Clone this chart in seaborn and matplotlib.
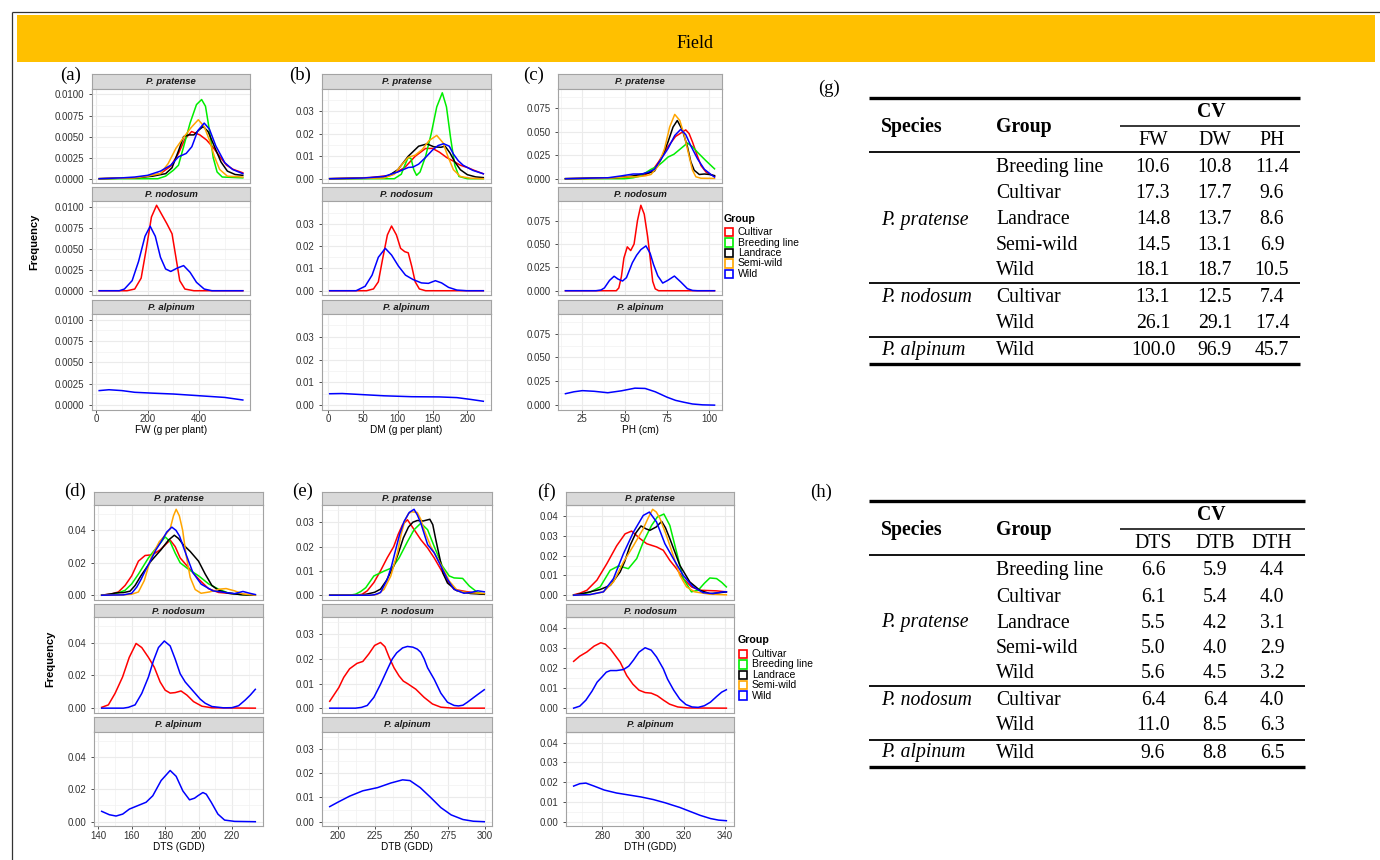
import numpy as np
import pandas as pd
import matplotlib
matplotlib.use("Agg")
import matplotlib.pyplot as plt
import seaborn as sns
from matplotlib.ticker import FixedLocator, AutoMinorLocator, FormatStrFormatter
from matplotlib.lines import Line2D
from matplotlib.patches import Rectangle

plt.rcParams["font.family"] = ["Liberation Sans", "DejaVu Sans"]

# ---------------- categories ----------------
GROUPS = ["Cultivar", "Breeding line", "Landrace", "Semi-wild", "Wild"]
GROUP_COLORS = ["#FF0000", "#00EE00", "#000000", "#FFA500", "#0000FF"]
SPECIES = ["P. pratense", "P. nodosum", "P. alpinum"]

# ---------------- density curves (x, density) ----------------
# (a) FW
FW_PRA_CUL = [(12, 0), (150, 0.0001), (200, 0.0003), (250, 0.0006), (290, 0.0015), (320, 0.0030), (345, 0.0047), (371, 0.0056), (403, 0.0052), (429, 0.0046), (455, 0.0037), (481, 0.0026), (507, 0.0016), (533, 0.0011), (570, 0.0007)]
FW_PRA_BRE = [(12, 0), (240, 0), (270, 0.0003), (300, 0.0010), (320, 0.0016), (340, 0.0038), (365, 0.0066), (390, 0.0088), (410, 0.0094), (425, 0.0086), (440, 0.0058), (455, 0.0025), (470, 0.0008), (490, 0.0002), (570, 0.0001)]
FW_PRA_LAN = [(12, 0), (150, 0.0001), (220, 0.0003), (270, 0.0006), (295, 0.0013), (320, 0.0033), (340, 0.0050), (360, 0.0052), (380, 0.0052), (400, 0.0058), (416, 0.0062), (435, 0.0056), (460, 0.0038), (485, 0.0020), (510, 0.0009), (540, 0.0005), (570, 0.0004)]
FW_PRA_SEM = [(12, 0), (150, 0.0001), (200, 0.0003), (250, 0.0006), (280, 0.0018), (310, 0.0036), (340, 0.0049), (370, 0.0061), (397, 0.0070), (420, 0.0062), (440, 0.0046), (460, 0.0026), (480, 0.0011), (510, 0.0003), (570, 0.0002)]
FW_PRA_WIL = [(12, 0), (100, 0.0001), (150, 0.0002), (200, 0.0004), (250, 0.0009), (290, 0.0016), (320, 0.0026), (350, 0.0030), (372, 0.0038), (395, 0.0057), (420, 0.0066), (440, 0.0059), (465, 0.0039), (500, 0.0019), (530, 0.0011), (570, 0.0006)]
FW_NOD_CUL = [(12, 0), (120, 0), (150, 0.0002), (175, 0.0015), (195, 0.0050), (215, 0.0088), (235, 0.0102), (255, 0.0091), (275, 0.0080), (295, 0.0068), (310, 0.0040), (325, 0.0012), (345, 0.0002), (380, 0), (570, 0)]
FW_NOD_WIL = [(12, 0), (90, 0), (110, 0.0002), (140, 0.0012), (165, 0.0035), (190, 0.0065), (210, 0.0077), (230, 0.0065), (250, 0.0040), (270, 0.0026), (290, 0.0023), (315, 0.0027), (340, 0.0030), (365, 0.0022), (390, 0.0010), (420, 0.0002), (450, 0), (570, 0)]
FW_ALP_WIL = [(12, 0.0017), (50, 0.0018), (100, 0.0017), (150, 0.0015), (220, 0.0014), (300, 0.0013), (400, 0.0011), (500, 0.0009), (570, 0.0006)]

# (b) DM
DM_PRA_CUL = [(2, 0), (60, 0.0005), (90, 0.0015), (110, 0.005), (125, 0.010), (140, 0.0135), (150, 0.0135), (160, 0.0118), (170, 0.0095), (180, 0.0078), (190, 0.006), (200, 0.005), (210, 0.0037), (223, 0.0022)]
DM_PRA_BRE = [(2, 0), (95, 0), (105, 0.002), (110, 0.006), (115, 0.0095), (119, 0.009), (123, 0.004), (127, 0.0015), (132, 0.003), (140, 0.010), (148, 0.020), (156, 0.032), (164, 0.0383), (170, 0.032), (176, 0.018), (182, 0.006), (188, 0.001), (200, 0), (223, 0)]
DM_PRA_LAN = [(2, 0), (60, 0.0002), (85, 0.001), (100, 0.004), (115, 0.010), (130, 0.0145), (142, 0.0155), (152, 0.0142), (162, 0.0140), (168, 0.0145), (175, 0.0115), (182, 0.0075), (190, 0.004), (200, 0.0018), (212, 0.0008), (223, 0.0005)]
DM_PRA_SEM = [(2, 0), (80, 0.0003), (95, 0.002), (105, 0.006), (115, 0.0095), (125, 0.0105), (135, 0.013), (145, 0.017), (156, 0.0193), (165, 0.016), (172, 0.010), (180, 0.004), (190, 0.001), (205, 0.0002), (223, 0)]
DM_PRA_WIL = [(2, 0), (50, 0.0003), (80, 0.001), (100, 0.003), (115, 0.0050), (122, 0.0052), (130, 0.0065), (140, 0.0095), (150, 0.0128), (158, 0.0148), (166, 0.0156), (174, 0.0145), (180, 0.011), (187, 0.008), (194, 0.006), (208, 0.0037), (223, 0.0022)]
DM_NOD_CUL = [(2, 0), (55, 0), (65, 0.0008), (72, 0.004), (78, 0.014), (85, 0.025), (91, 0.029), (98, 0.025), (104, 0.019), (110, 0.0175), (115, 0.017), (120, 0.011), (125, 0.004), (131, 0.0008), (140, 0), (223, 0)]
DM_NOD_WIL = [(2, 0), (40, 0), (53, 0.002), (63, 0.007), (72, 0.015), (82, 0.019), (91, 0.016), (101, 0.011), (111, 0.007), (122, 0.005), (134, 0.0035), (144, 0.0033), (154, 0.0045), (163, 0.0035), (173, 0.0015), (185, 0.0003), (199, 0), (223, 0)]
DM_ALP_WIL = [(2, 0.0050), (20, 0.0051), (50, 0.0046), (80, 0.0041), (120, 0.0037), (160, 0.0036), (185, 0.0033), (205, 0.0025), (223, 0.0017)]

# (c) PH
PH_PRA_CUL = [(15, 0), (45, 0.001), (55, 0.002), (62, 0.004), (66, 0.008), (70, 0.018), (75, 0.033), (80, 0.045), (86, 0.052), (88, 0.048), (90, 0.039), (92.5, 0.026), (95, 0.014), (98, 0.007), (101, 0.0043), (103, 0.0025)]
PH_PRA_BRE = [(15, 0), (50, 0), (55, 0.001), (58.5, 0.0025), (62, 0.006), (65.5, 0.010), (69.5, 0.0135), (72.5, 0.018), (75.5, 0.023), (79, 0.026), (83, 0.032), (87, 0.038), (90, 0.034), (93, 0.028), (98, 0.019), (103, 0.0105)]
PH_PRA_LAN = [(15, 0), (45, 0.001), (55, 0.003), (60, 0.005), (64, 0.006), (67.5, 0.008), (71.5, 0.021), (75.5, 0.039), (78.5, 0.055), (81, 0.062), (84, 0.052), (87, 0.034), (89, 0.018), (91, 0.009), (94, 0.0045), (97, 0.005), (100, 0.0045), (103, 0.0033)]
PH_PRA_SEM = [(15, 0), (35, 0.0002), (45, 0.001), (52, 0.002), (57, 0.002), (62, 0.003), (65.5, 0.0045), (69.5, 0.013), (73.5, 0.032), (76.5, 0.055), (79.5, 0.0685), (82.5, 0.062), (85, 0.047), (88, 0.024), (90, 0.009), (92, 0.002), (95, 0.0005), (103, 0.0003)]
PH_PRA_WIL = [(15, 0), (40, 0.001), (48, 0.003), (55, 0.005), (60, 0.005), (64, 0.007), (67.5, 0.010), (71.5, 0.021), (75.5, 0.032), (79.5, 0.046), (83, 0.0525), (86, 0.047), (89, 0.035), (93, 0.021), (97, 0.010), (101, 0.0043), (103, 0.0018)]
PH_NOD_CUL = [(15, 0), (45, 0), (46.5, 0.003), (48, 0.015), (49.5, 0.035), (51.5, 0.047), (53.5, 0.043), (55.5, 0.050), (57.5, 0.075), (59.5, 0.0915), (61.5, 0.082), (63.5, 0.058), (65, 0.035), (66.5, 0.010), (68, 0.002), (70, 0), (103, 0)]
PH_NOD_WIL = [(15, 0), (33, 0), (36, 0.0008), (38, 0.003), (41, 0.011), (43.7, 0.0155), (46, 0.0125), (48.7, 0.0104), (51, 0.014), (54.5, 0.030), (57, 0.038), (59.5, 0.044), (62.5, 0.048), (65, 0.040), (67, 0.028), (69.5, 0.016), (72.4, 0.0082), (75.3, 0.011), (79.3, 0.0157), (83, 0.0095), (87, 0.0022), (90, 0.0003), (93, 0), (103, 0)]
PH_ALP_WIL = [(15, 0.012), (20, 0.014), (25, 0.0152), (32, 0.0145), (40, 0.013), (48, 0.015), (56, 0.0178), (62, 0.0175), (68, 0.014), (75, 0.0083), (80, 0.005), (85, 0.003), (90, 0.0012), (96, 0.0003), (103, 0)]

# (d) DTS
DTS_PRA_CUL = [(142, 0), (148, 0.0008), (152, 0.002), (156, 0.006), (160, 0.012), (164, 0.021), (168, 0.0245), (171, 0.0248), (174, 0.026), (177, 0.028), (180, 0.031), (183, 0.034), (186, 0.030), (189, 0.023), (194, 0.017), (200, 0.010), (206, 0.004), (212, 0.0017), (222, 0.0008), (234, 0)]
DTS_PRA_BRE = [(142, 0), (148, 0.0005), (152, 0.0015), (156, 0.003), (160, 0.007), (164, 0.013), (167, 0.018), (170, 0.023), (173, 0.027), (177, 0.032), (180, 0.036), (183, 0.033), (186, 0.026), (189, 0.020), (194, 0.016), (200, 0.012), (206, 0.007), (212, 0.0037), (218, 0.0013), (225, 0.0004), (234, 0)]
DTS_PRA_LAN = [(142, 0), (147, 0.0007), (151, 0.0015), (155, 0.0016), (159, 0.0025), (162, 0.006), (165.5, 0.012), (171.5, 0.021), (177.5, 0.028), (182, 0.034), (185.5, 0.037), (188, 0.035), (191, 0.031), (195, 0.027), (200, 0.021), (204, 0.013), (208, 0.006), (212, 0.003), (218, 0.0012), (226, 0.0003), (234, 0)]
DTS_PRA_SEM = [(142, 0), (155, 0.0002), (160, 0.0006), (164, 0.002), (167.5, 0.009), (171.5, 0.023), (176.5, 0.033), (180, 0.037), (183, 0.041), (185, 0.049), (186.6, 0.053), (188.5, 0.049), (190.5, 0.040), (192.5, 0.025), (195, 0.011), (198, 0.0035), (201.5, 0.0012), (206.5, 0.002), (212.5, 0.0037), (216.5, 0.0041), (221.5, 0.0027), (226.5, 0.0008), (234, 0)]
DTS_PRA_WIL = [(142, 0), (155, 0.0002), (160, 0.0012), (163, 0.005), (165.6, 0.0098), (168.5, 0.016), (171.6, 0.022), (174.5, 0.028), (177.6, 0.033), (181, 0.039), (184, 0.042), (186.5, 0.040), (188.6, 0.0365), (192.6, 0.025), (196.6, 0.014), (201.6, 0.0068), (208.6, 0.0027), (216.6, 0.0016), (221.6, 0.001), (226.6, 0.0023), (230.6, 0.0012), (234, 0.0004)]
DTS_NOD_CUL = [(142, 0.0005), (146, 0.002), (150, 0.009), (154.5, 0.019), (158.5, 0.031), (162.6, 0.0395), (166, 0.037), (170, 0.031), (173.5, 0.025), (177, 0.016), (180, 0.011), (183, 0.0092), (186, 0.0095), (189.5, 0.0105), (193, 0.008), (197, 0.004), (202, 0.0012), (208, 0.0002), (234, 0)]
DTS_NOD_WIL = [(142, 0), (155, 0), (158, 0.0005), (162, 0.002), (166, 0.009), (170, 0.019), (173, 0.029), (176, 0.037), (179.5, 0.041), (183, 0.038), (186, 0.030), (189, 0.021), (192, 0.016), (195, 0.0125), (198, 0.009), (201, 0.0055), (204, 0.003), (208, 0.001), (215, 0.0002), (220, 0.0003), (224, 0.0015), (228, 0.005), (231, 0.008), (234, 0.0115)]
DTS_ALP_WIL = [(142, 0.0064), (146.6, 0.0043), (150.6, 0.0035), (154.6, 0.0047), (158.6, 0.0078), (163.6, 0.0099), (168.6, 0.012), (172.6, 0.016), (177.6, 0.0254), (183, 0.0316), (186.6, 0.028), (190.6, 0.019), (194.6, 0.0135), (197.6, 0.0145), (199.6, 0.016), (202.6, 0.018), (204.6, 0.017), (207.6, 0.012), (211.6, 0.0047), (215.6, 0.001), (221.6, 0.0002), (234, 0)]

# (e) DTB
DTB_PRA_CUL = [(194.5, 0), (213, 0), (216.5, 0.0004), (220, 0.0018), (224.5, 0.0052), (229, 0.010), (233.5, 0.0153), (238, 0.020), (241, 0.025), (244, 0.029), (247.3, 0.031), (251.8, 0.027), (256.4, 0.0228), (261, 0.0194), (265.5, 0.0153), (270, 0.0106), (274.5, 0.0058), (279, 0.0024), (288, 0.0014), (299.5, 0.0004)]
DTB_PRA_BRE = [(194.5, 0), (208, 0), (212, 0.0004), (215.5, 0.0015), (219, 0.0031), (224.5, 0.0079), (231.4, 0.0099), (237, 0.0113), (241.6, 0.0153), (247.3, 0.022), (251.8, 0.0269), (256.4, 0.0296), (261, 0.0269), (265.5, 0.020), (271, 0.012), (275.7, 0.0079), (279, 0.0071), (284.8, 0.0069), (289.3, 0.0038), (295, 0.0011), (299.5, 0.0004)]
DTB_PRA_LAN = [(194.5, 0), (215, 0), (220, 0.0005), (225, 0.0012), (229, 0.0025), (233, 0.006), (238, 0.012), (241, 0.017), (244.5, 0.0235), (248, 0.028), (251, 0.030), (254, 0.0307), (258, 0.0305), (262.5, 0.0312), (264.5, 0.029), (266.5, 0.023), (269, 0.016), (271.5, 0.009), (274.5, 0.005), (281, 0.0018), (290, 0.0007), (299.5, 0.0004)]
DTB_PRA_SEM = [(194.5, 0), (224, 0), (227, 0.0004), (231.4, 0.0024), (236, 0.0079), (240.5, 0.0174), (243, 0.025), (245.5, 0.0305), (248, 0.0335), (250, 0.0343), (254, 0.034), (256.5, 0.031), (258.6, 0.0269), (263.2, 0.020), (270, 0.0126), (275.7, 0.0058), (281.4, 0.0018), (288, 0.0011), (299.5, 0.0007)]
DTB_PRA_WIL = [(194.5, 0), (222, 0), (225, 0.0002), (229, 0.0011), (233.6, 0.0065), (236.5, 0.012), (239.3, 0.0187), (242, 0.025), (245, 0.0303), (248.5, 0.034), (251.8, 0.0353), (254, 0.033), (256.4, 0.0296), (261, 0.0208), (265.5, 0.0174), (270, 0.012), (274.5, 0.0065), (279, 0.0024), (285.7, 0.0008), (291, 0.0012), (295, 0.0018), (299.5, 0.0014)]
DTB_NOD_CUL = [(194.5, 0.0028), (200.7, 0.0084), (204, 0.0125), (208, 0.016), (213, 0.0182), (217, 0.019), (221, 0.022), (225, 0.0255), (229, 0.0267), (232, 0.025), (235, 0.0205), (238.2, 0.0164), (241.6, 0.0131), (244.5, 0.011), (247.3, 0.010), (253, 0.0077), (258.6, 0.0044), (264.3, 0.0017), (270, 0.0004), (278, 0), (299.5, 0)]
DTB_NOD_WIL = [(194.5, 0), (212, 0), (216, 0.0003), (220, 0.0011), (224.5, 0.0044), (229, 0.0097), (233.6, 0.0157), (237, 0.020), (240, 0.0225), (244, 0.0245), (247.3, 0.0251), (251, 0.0248), (254, 0.024), (256.4, 0.0227), (258.7, 0.020), (261, 0.0164), (265.5, 0.0117), (270, 0.0061), (274.5, 0.0024), (279, 0.0011), (282, 0.0009), (285, 0.0012), (288, 0.0024), (294, 0.0051), (299.5, 0.0075)]
DTB_ALP_WIL = [(194.5, 0.0062), (200, 0.008), (208, 0.0105), (217, 0.0127), (227, 0.014), (236, 0.0159), (244, 0.0172), (249, 0.0169), (256, 0.014), (263, 0.010), (270, 0.0058), (277, 0.0028), (285, 0.0009), (292, 0.0002), (299.5, 0)]

# (f) DTH
DTH_PRA_CUL = [(266, 0.0002), (269, 0.001), (272.5, 0.0025), (277.4, 0.0076), (282.3, 0.016), (287.1, 0.025), (291.2, 0.031), (294.4, 0.0324), (298.5, 0.0286), (301.8, 0.026), (306.6, 0.0244), (309.9, 0.0227), (313.1, 0.0176), (316.4, 0.0134), (319.7, 0.0084), (323.7, 0.0042), (327.8, 0.0025), (335.9, 0.0022), (340.8, 0.0017)]
DTH_PRA_BRE = [(266, 0), (270, 0.0005), (274, 0.0015), (279, 0.0042), (283.9, 0.0126), (288, 0.0148), (292.8, 0.0134), (296.9, 0.0185), (300.1, 0.0269), (304.2, 0.0353), (307, 0.0395), (310.2, 0.041), (313.1, 0.0353), (316.4, 0.0218), (319.7, 0.0084), (323.7, 0.0017), (327, 0.0025), (330, 0.006), (332.7, 0.0087), (336, 0.0084), (338.5, 0.0065), (340.8, 0.0042)]
DTH_PRA_LAN = [(266, 0), (270, 0.0008), (274, 0.0017), (279, 0.0029), (284, 0.005), (288.8, 0.0118), (291, 0.017), (293.6, 0.025), (296.5, 0.0315), (299, 0.035), (301.5, 0.0335), (303.4, 0.0328), (306.5, 0.0345), (309.1, 0.0373), (311, 0.034), (313.1, 0.0286), (318, 0.0151), (322.9, 0.0067), (327.8, 0.0025), (332.7, 0.0008), (337, 0.0012), (340.8, 0.0017)]
DTH_PRA_SEM = [(266, 0), (274, 0.0003), (280.6, 0.0017), (285.5, 0.0067), (290.4, 0.0168), (295.3, 0.025), (300.1, 0.0336), (302.5, 0.039), (304.7, 0.0434), (306.5, 0.042), (308.3, 0.0387), (311.5, 0.030), (314.8, 0.020), (318, 0.010), (321.3, 0.0042), (325.3, 0.0017), (332.7, 0.0005), (340.8, 0.0002)]
DTH_PRA_WIL = [(266, 0), (274, 0.0003), (280.6, 0.0017), (285.5, 0.0084), (290.4, 0.021), (295.3, 0.0319), (300.1, 0.0403), (303.1, 0.042), (306.6, 0.037), (310.7, 0.026), (314.8, 0.0185), (319.7, 0.010), (324.5, 0.0042), (329.4, 0.0013), (334.3, 0.0008), (339.2, 0.0017), (340.8, 0.0017)]
DTH_NOD_CUL = [(266, 0.0234), (269, 0.026), (272.5, 0.0281), (276, 0.031), (279.3, 0.0327), (281.5, 0.032), (283.9, 0.0297), (288.8, 0.023), (292, 0.0163), (295, 0.012), (298, 0.009), (301, 0.0078), (304, 0.0075), (307, 0.0062), (310, 0.004), (313, 0.002), (317, 0.0006), (322, 0.0001), (340.8, 0)]
DTH_NOD_WIL = [(266, 0), (269, 0.001), (272, 0.004), (275, 0.0085), (277.5, 0.013), (279.8, 0.0155), (282, 0.018), (284, 0.0188), (287, 0.0188), (290.4, 0.0193), (293, 0.021), (295.3, 0.024), (298, 0.028), (301, 0.0302), (304, 0.029), (306.6, 0.0256), (309.9, 0.0197), (312, 0.0145), (315, 0.009), (318, 0.0045), (321, 0.0018), (324, 0.0006), (327, 0.0004), (330, 0.0012), (333, 0.003), (336, 0.0058), (338.5, 0.008), (340.8, 0.0092)]
DTH_ALP_WIL = [(266, 0.018), (269, 0.0192), (272, 0.0195), (276, 0.018), (281, 0.016), (287, 0.0145), (293, 0.0135), (299, 0.0125), (305, 0.0112), (311, 0.0095), (314, 0.0085), (318, 0.0072), (323, 0.0052), (328, 0.0032), (333, 0.0016), (337, 0.0008), (340.8, 0.0005)]

# ---------------- tick values ----------------
FW_XTICKS = [0, 200, 400, 600]
FW_YTICKS = [0, 0.0025, 0.005, 0.0075, 0.01]
DM_XTICKS = [0, 50, 100, 150, 200]
DM_YTICKS = [0, 0.01, 0.02, 0.03]
PH_XTICKS = [25, 50, 75, 100]
PH_YTICKS = [0, 0.025, 0.05, 0.075]
DTS_XTICKS = [140, 160, 180, 200, 220]
DTS_YTICKS = [0, 0.02, 0.04]
DTB_XTICKS = [200, 225, 250, 275, 300]
DTB_YTICKS = [0, 0.01, 0.02, 0.03]
DTH_XTICKS = [280, 300, 320, 340]
DTH_YTICKS = [0, 0.01, 0.02, 0.03, 0.04]

# ---------------- tables ----------------
TABLE_SPECIES = ["P. pratense", "P. nodosum", "P. alpinum"]
TABLE_GROUPS = ["Breeding line", "Cultivar", "Landrace", "Semi-wild", "Wild", "Cultivar", "Wild", "Wild"]
G_HEADS = ["FW", "DW", "PH"]
G_FW = [10.6, 17.3, 14.8, 14.5, 18.1, 13.1, 26.1, 100.0]
G_DW = [10.8, 17.7, 13.7, 13.1, 18.7, 12.5, 29.1, 96.9]
G_PH = [11.4, 9.6, 8.6, 6.9, 10.5, 7.4, 17.4, 45.7]
H_HEADS = ["DTS", "DTB", "DTH"]
H_DTS = [6.6, 6.1, 5.5, 5.0, 5.6, 6.4, 11.0, 9.6]
H_DTB = [5.9, 5.4, 4.2, 4.0, 4.5, 6.4, 8.5, 8.8]
H_DTH = [4.4, 4.0, 3.1, 2.9, 3.2, 4.0, 6.3, 6.5]

# ---------------- build long table ----------------
CURVE_SETS = {
    "FW": [FW_PRA_CUL, FW_PRA_BRE, FW_PRA_LAN, FW_PRA_SEM, FW_PRA_WIL, FW_NOD_CUL, FW_NOD_WIL, FW_ALP_WIL],
    "DM": [DM_PRA_CUL, DM_PRA_BRE, DM_PRA_LAN, DM_PRA_SEM, DM_PRA_WIL, DM_NOD_CUL, DM_NOD_WIL, DM_ALP_WIL],
    "PH": [PH_PRA_CUL, PH_PRA_BRE, PH_PRA_LAN, PH_PRA_SEM, PH_PRA_WIL, PH_NOD_CUL, PH_NOD_WIL, PH_ALP_WIL],
    "DTS": [DTS_PRA_CUL, DTS_PRA_BRE, DTS_PRA_LAN, DTS_PRA_SEM, DTS_PRA_WIL, DTS_NOD_CUL, DTS_NOD_WIL, DTS_ALP_WIL],
    "DTB": [DTB_PRA_CUL, DTB_PRA_BRE, DTB_PRA_LAN, DTB_PRA_SEM, DTB_PRA_WIL, DTB_NOD_CUL, DTB_NOD_WIL, DTB_ALP_WIL],
    "DTH": [DTH_PRA_CUL, DTH_PRA_BRE, DTH_PRA_LAN, DTH_PRA_SEM, DTH_PRA_WIL, DTH_NOD_CUL, DTH_NOD_WIL, DTH_ALP_WIL],
}
CURVE_KEYS = [("P. pratense", g) for g in GROUPS] + [("P. nodosum", "Cultivar"), ("P. nodosum", "Wild"), ("P. alpinum", "Wild")]

rows = []
for var, curves in CURVE_SETS.items():
    for (sp, grp), pts in zip(CURVE_KEYS, curves):
        for i, (xv, yv) in enumerate(pts):
            rows.append((var, sp, grp, i, xv, yv))
df = pd.DataFrame(rows, columns=["var", "species", "group", "idx", "x", "y"])
PALETTE = dict(zip(GROUPS, GROUP_COLORS))

# ---------------- figure ----------------
W, H = 1380, 860
fig = plt.figure(figsize=(W / 100, H / 100), dpi=100)
fig.patch.set_facecolor("white")


def add_ax(x0, y0, x1, y1):
    return fig.add_axes([x0 / W, 1 - y1 / H, (x1 - x0) / W, (y1 - y0) / H])


def ftext(x, y, s, **kw):
    return fig.text(x / W, 1 - y / H, s, **kw)


def hline(x0, x1, y, lw, color="black"):
    fig.add_artist(Line2D([x0 / W, x1 / W], [1 - y / H, 1 - y / H], color=color, lw=lw,
                          transform=fig.transFigure, solid_capstyle="butt"))


def vline(x, y0, y1, lw, color="black"):
    fig.add_artist(Line2D([x / W, x / W], [1 - y0 / H, 1 - y1 / H], color=color, lw=lw,
                          transform=fig.transFigure, solid_capstyle="butt"))


# frame + banner
hline(12, 1380, 12, 0.9, "#333333")
vline(12, 12, 860, 0.9, "#333333")
fig.add_artist(Rectangle((17 / W, 1 - 62 / H), (1375 - 17) / W, 47 / H, transform=fig.transFigure,
                         facecolor="#FFC000", edgecolor="none"))
ftext(695, 44, "Field", family="Liberation Serif", fontsize=13, ha="center", va="center")

ROW_GEOM = {
    0: dict(strips=[(74, 88.5), (187, 201), (300, 313.5)], plots=[(88.5, 183), (201, 295), (313.5, 409.5)]),
    1: dict(strips=[(491.5, 505), (604, 617), (717, 731.5)], plots=[(505, 599.5), (617, 712.5), (731.5, 826)]),
}

PANELS = [
    dict(var="FW", tag="(a)", tagxy=(71, 75), xlabel="FW (g per plant)", xt=FW_XTICKS, yt=FW_YTICKS, fmt="%.4f", x0=92, x1=250, row=0, ylab=34, legend=None),
    dict(var="DM", tag="(b)", tagxy=(300, 75), xlabel="DM (g per plant)", xt=DM_XTICKS, yt=DM_YTICKS, fmt="%.2f", x0=322, x1=491, row=0, ylab=None, legend=None),
    dict(var="PH", tag="(c)", tagxy=(534, 75), xlabel="PH (cm)", xt=PH_XTICKS, yt=PH_YTICKS, fmt="%.3f", x0=558, x1=722, row=0, ylab=None, legend=(724, 219.5, 232.3)),
    dict(var="DTS", tag="(d)", tagxy=(75, 491.5), xlabel="DTS (GDD)", xt=DTS_XTICKS, yt=DTS_YTICKS, fmt="%.2f", x0=94, x1=263, row=1, ylab=50, legend=None),
    dict(var="DTB", tag="(e)", tagxy=(303, 491.5), xlabel="DTB (GDD)", xt=DTB_XTICKS, yt=DTB_YTICKS, fmt="%.2f", x0=322, x1=492, row=1, ylab=None, legend=None),
    dict(var="DTH", tag="(f)", tagxy=(546, 492.5), xlabel="DTH (GDD)", xt=DTH_XTICKS, yt=DTH_YTICKS, fmt="%.2f", x0=566, x1=734, row=1, ylab=None, legend=(738, 640, 654)),
]

BORDER = "#A3A3A3"
TICKC = "#333333"

for p in PANELS:
    pdf = df[df["var"] == p["var"]]
    xmin, xmax = pdf["x"].min(), pdf["x"].max()
    xpad = 0.05 * (xmax - xmin)
    ymax = pdf["y"].max()
    ypad = 0.05 * ymax
    geom = ROW_GEOM[p["row"]]
    for i, sp in enumerate(SPECIES):
        s0, s1 = geom["strips"][i]
        a0, a1 = geom["plots"][i]
        # strip
        sax = add_ax(p["x0"], s0, p["x1"], s1)
        sax.set_facecolor("#D9D9D9")
        sax.set_xticks([])
        sax.set_yticks([])
        for sp_ in sax.spines.values():
            sax.spines
            sp_.set_color(BORDER)
            sp_.set_linewidth(0.8)
        sax.text(0.5, 0.45, sp, transform=sax.transAxes, ha="center", va="center",
                 fontsize=6.8, fontweight="bold", fontstyle="italic", color="#1A1A1A")
        # plot
        ax = add_ax(p["x0"], a0, p["x1"], a1)
        sub = pdf[pdf["species"] == sp].sort_values(["group", "idx"])
        order = [g for g in GROUPS if g in set(sub["group"])]
        sns.lineplot(data=sub, x="x", y="y", hue="group", hue_order=order, palette=PALETTE,
                     estimator=None, errorbar=None, sort=False, legend=False, linewidth=1.1, ax=ax)
        ax.set_xlim(xmin - xpad, xmax + xpad)
        ax.set_ylim(-ypad, ymax + ypad)
        ax.xaxis.set_major_locator(FixedLocator(p["xt"]))
        ax.yaxis.set_major_locator(FixedLocator(p["yt"]))
        ax.xaxis.set_minor_locator(AutoMinorLocator(2))
        ax.yaxis.set_minor_locator(AutoMinorLocator(2))
        ax.yaxis.set_major_formatter(FormatStrFormatter(p["fmt"]))
        ax.grid(which="major", color="#EBEBEB", linewidth=0.8)
        ax.grid(which="minor", color="#F2F2F2", linewidth=0.5)
        ax.set_axisbelow(True)
        for sp_ in ax.spines.values():
            sp_.set_color(BORDER)
            sp_.set_linewidth(0.8)
        ax.tick_params(which="minor", length=0)
        ax.tick_params(axis="y", which="major", length=2.5, width=0.6, color=TICKC,
                       labelsize=7, labelcolor=TICKC, pad=3)
        ax.set_ylabel("")
        if i < 2:
            ax.tick_params(axis="x", which="major", length=0, labelbottom=False)
            ax.set_xlabel("")
        else:
            ax.tick_params(axis="x", which="major", length=2.5, width=0.6, color=TICKC,
                           labelsize=7, labelcolor=TICKC, pad=0.8)
            ax.set_xlabel(p["xlabel"], fontsize=7.2, labelpad=1, color="black")
    # panel tag
    ftext(p["tagxy"][0], p["tagxy"][1], p["tag"], family="Liberation Serif", fontsize=13.5,
          ha="center", va="center")
    if p["ylab"] is not None:
        yc = (geom["strips"][0][0] + geom["plots"][2][1]) / 2
        ftext(p["ylab"], yc, "Frequency", rotation=90, fontsize=8, fontweight="bold",
              ha="center", va="center")
    if p["legend"] is not None:
        lx, ly_title, ly0 = p["legend"]
        ftext(lx, ly_title, "Group", fontsize=7.7, fontweight="bold", ha="left", va="center")
        for k, g in enumerate(GROUPS):
            yy = ly0 + k * 10.4
            fig.add_artist(Rectangle(((lx + 0.5) / W, 1 - (yy + 4.1) / H), 8.3 / W, 8.3 / H,
                                     transform=fig.transFigure, fill=False,
                                     edgecolor=PALETTE[g], linewidth=1.2))
            ftext(lx + 13.7, yy, g, fontsize=7.5, ha="left", va="center")

# ---------------- tables ----------------
SERIF = "Liberation Serif"
TFS = 14.2
ROW_Y = [167.7, 194, 220, 245.3, 270.3, 297.7, 323, 350]
SPECIES_ROW = [2, 5, 7]


def draw_table(dy, right, heads, cols, tag, tagxy):
    L = 869
    colx = [1153, 1215, 1272]
    ftext(tagxy[0], tagxy[1], tag, family=SERIF, fontsize=13.5, ha="center", va="center")
    hline(L, right, 98.3 + dy, 2.4)
    ftext(881, 127 + dy, "Species", family=SERIF, fontsize=TFS, fontweight="bold", ha="left", va="center")
    ftext(996, 127 + dy, "Group", family=SERIF, fontsize=TFS, fontweight="bold", ha="left", va="center")
    ftext(1211, 112 + dy, "CV", family=SERIF, fontsize=TFS, fontweight="bold", ha="center", va="center")
    hline(1120, right, 125.7 + dy, 1.1)
    for cx, h in zip(colx, heads):
        ftext(cx, 140.5 + dy, h, family=SERIF, fontsize=TFS, ha="center", va="center")
    hline(L, right, 152.3 + dy, 1.3)
    for r, y in enumerate(ROW_Y):
        ftext(996, y + dy, TABLE_GROUPS[r], family=SERIF, fontsize=TFS, ha="left", va="center")
        for cx, vals in zip(colx, cols):
            ftext(cx, y + dy, "%.1f" % vals[r], family=SERIF, fontsize=TFS, ha="center", va="center")
    for sp, r in zip(TABLE_SPECIES, SPECIES_ROW):
        ftext(881, ROW_Y[r] + dy, sp, family=SERIF, fontsize=TFS, fontstyle="italic", ha="left", va="center")
    hline(L, right, 283.3 + dy, 1.3)
    hline(L, right, 336.7 + dy, 1.3)
    hline(L, right, 364 + dy, 2.4)


draw_table(0, 1300, G_HEADS, [G_FW, G_DW, G_PH], "(g)", (829, 88))
draw_table(403, 1305, H_HEADS, [H_DTS, H_DTB, H_DTH], "(h)", (821, 492))

fig.savefig("out.png", dpi=100)
